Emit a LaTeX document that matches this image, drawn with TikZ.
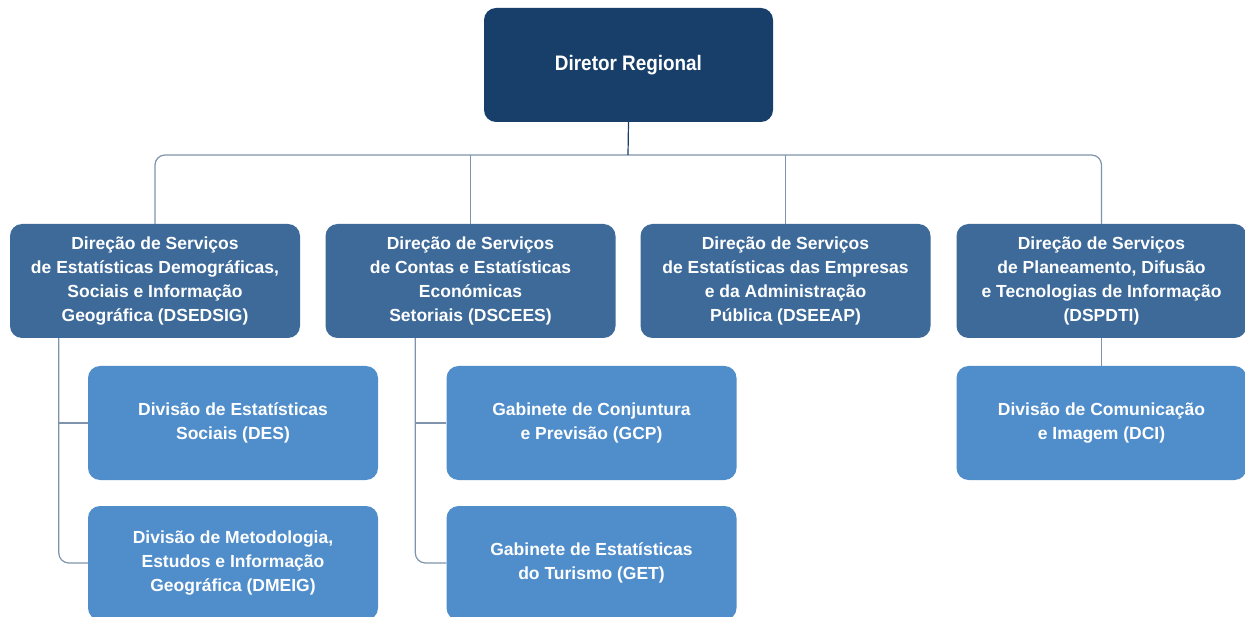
\documentclass[tikz,border=0pt]{standalone}
\usepackage{fontspec}
\setmainfont{Liberation Sans}
\newfontfamily\dirfont{Liberation Sans}[FakeStretch=0.9]
\definecolor{navy}{HTML}{173F6A}
\definecolor{midblue}{HTML}{3D6A99}
\definecolor{lightblue}{HTML}{4F8DCB}
\definecolor{linec}{HTML}{7F94AC}
\tikzset{
  box/.style={rectangle, rounded corners=12pt, inner sep=0pt, text=white,
    align=center, font=\fontsize{17.5}{23.7}\selectfont\bfseries},
  topbox/.style={box, fill=navy, minimum width=289pt, minimum height=114pt,
    font=\dirfont\fontsize{21}{26}\selectfont\bfseries},
  dirbox/.style={box, fill=midblue, minimum width=290pt, minimum height=114pt},
  divbox/.style={box, fill=lightblue, minimum width=290pt, minimum height=114pt},
  conn/.style={draw=linec, line width=1.2pt},
  topconn/.style={draw=navy, line width=1.2pt}
}
\begin{document}
\begin{tikzpicture}[x=1pt,y=-1pt]
\useasboundingbox (0,0) rectangle (1245,617);
\fill[white] (0,0) rectangle (1245,617);

\node[topbox] (dir) at (628.5,65) {Diretor Regional};

\node[dirbox] (l1) at (155,281) {Direção de Serviços\\de Estatísticas Demográficas,\\Sociais e Informação\\Geográfica (DSEDSIG)};
\node[dirbox] (l2) at (470.5,281) {Direção de Serviços\\de Contas e Estatísticas\\Económicas\\Setoriais (DSCEES)};
\node[dirbox] (l3) at (785.5,281) {Direção de Serviços\\de Estatísticas das Empresas\\e da Administração\\Pública (DSEEAP)};
\node[dirbox] (l4) at (1101.5,281) {Direção de Serviços\\de Planeamento, Difusão\\e Tecnologias de Informação\\(DSPDTI)};

\node[divbox] (des) at (233,423) {Divisão de Estatísticas\\Sociais (DES)};
\node[divbox] (dmeig) at (233,563) {Divisão de Metodologia,\\Estudos e Informação\\Geográfica (DMEIG)};
\node[divbox] (gcp) at (591.5,423) {Gabinete de Conjuntura\\e Previsão (GCP)};
\node[divbox] (get) at (591.5,563) {Gabinete de Estatísticas\\do Turismo (GET)};
\node[divbox] (dci) at (1101.5,423) {Divisão de Comunicação\\e Imagem (DCI)};

\coordinate (bus) at (628,155);
\draw[conn, rounded corners=10pt] (l1.north) |- (bus) -| (l4.north);
\draw[conn] (l2.north) -- (l2.north |- bus);
\draw[conn] (l3.north) -- (l3.north |- bus);
\draw[topconn] (dir.south) -- (bus);

\coordinate (b1) at ([xshift=49pt]l1.south west);
\coordinate (b2) at ([xshift=90pt]l2.south west);
\draw[conn, rounded corners=10pt] (b1) |- (dmeig.west);
\draw[conn] (b1 |- des.west) -- (des.west);
\draw[conn, rounded corners=10pt] (b2) |- (get.west);
\draw[conn] (b2 |- gcp.west) -- (gcp.west);
\draw[conn] (l4.south) -- (dci.north);
\end{tikzpicture}
\end{document}
